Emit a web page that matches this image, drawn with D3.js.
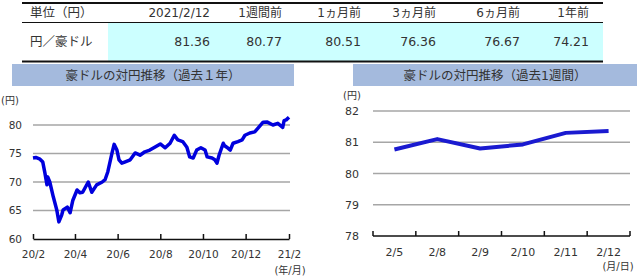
<!DOCTYPE html>
<html>
<head>
<meta charset="utf-8">
<script src="https://cdn.jsdelivr.net/npm/d3@7"></script>
<style>
  body { margin: 0; background: #fff; }
  svg text { font-family: "DejaVu Sans", "Noto Sans CJK JP", sans-serif; fill: #333; }
</style>
</head>
<body>
<div id="chart"></div>
<script>
// table data
var tableHeaders = ['2021/2/12', '1週間前', '1ヵ月前', '3ヵ月前', '6ヵ月前', '1年前'];
var tableValues = ['81.36', '80.77', '80.51', '76.36', '76.67', '74.21'];

// past 1 year
var yearDates = ['2020-02-12', '2020-02-16', '2020-02-22', '2020-02-26', '2020-02-29', '2020-03-03', '2020-03-04',
    '2020-03-07', '2020-03-12', '2020-03-17', '2020-03-20', '2020-03-24', '2020-03-26', '2020-04-01', '2020-04-05',
    '2020-04-09', '2020-04-15', '2020-04-19', '2020-04-23', '2020-05-01', '2020-05-06', '2020-05-13', '2020-05-21',
    '2020-05-25', '2020-05-29', '2020-06-04', '2020-06-07', '2020-06-11', '2020-06-14', '2020-06-18', '2020-06-22',
    '2020-06-30', '2020-07-07', '2020-07-14', '2020-07-21', '2020-07-28', '2020-08-04', '2020-08-12', '2020-08-19',
    '2020-08-26', '2020-09-01', '2020-09-06', '2020-09-13', '2020-09-19', '2020-09-23', '2020-09-28', '2020-10-03',
    '2020-10-09', '2020-10-15', '2020-10-18', '2020-10-25', '2020-10-29', '2020-11-01', '2020-11-04', '2020-11-10',
    '2020-11-12', '2020-11-15', '2020-11-20', '2020-11-24', '2020-12-01', '2020-12-07', '2020-12-11', '2020-12-18',
    '2020-12-25', '2020-12-30', '2021-01-06', '2021-01-12', '2021-01-20', '2021-01-27', '2021-02-03', '2021-02-05',
    '2021-02-08', '2021-02-12'];
var yearValues = [74.21, 74.3, 74.0, 73.5, 71.6, 69.5, 70.9,
    70.0, 67.4, 65.1, 63.0, 64.2, 65.1, 65.6, 64.6,
    66.8, 68.6, 68.1, 68.2, 70.0, 68.2, 69.5, 70.0,
    70.4, 71.8, 75.1, 76.6, 75.6, 73.9, 73.3, 73.5,
    73.9, 75.1, 74.7, 75.3, 75.6, 76.1, 76.67, 76.0,
    76.8, 78.2, 77.4, 77.1, 76.1, 74.4, 74.2, 75.6,
    76.0, 75.6, 74.4, 74.2, 73.9, 73.3, 74.7, 76.8,
    76.36, 76.1, 75.6, 76.8, 77.1, 77.4, 78.2, 78.6,
    78.8, 79.5, 80.5, 80.51, 80.0, 80.3, 79.6, 80.77,
    80.9, 81.36];
var yearTicks = ['2020-02-12', '2020-04-12', '2020-06-12', '2020-08-12', '2020-10-12', '2020-12-12', '2021-02-12'];

// past 1 week
var weekDays = ['2/5', '2/8', '2/9', '2/10', '2/11', '2/12'];
var weekValues = [80.77, 81.1, 80.8, 80.93, 81.3, 81.36];

var parseDate = d3.timeParse('%Y-%m-%d');
var svg = d3.select('#chart').append('svg').attr('width', 640).attr('height', 278);

// ---- table ----
var colRight = [210, 282, 361, 436, 520, 589];
svg.append('rect').attr('x', 108).attr('y', 23).attr('width', 495).attr('height', 38).attr('fill', '#ccffff');
svg.append('line').attr('x1', 22).attr('x2', 603).attr('y1', 3).attr('y2', 3).attr('stroke', '#111').attr('stroke-width', 2);
svg.append('line').attr('x1', 22).attr('x2', 603).attr('y1', 22.5).attr('y2', 22.5).attr('stroke', '#111').attr('stroke-width', 1);
svg.append('line').attr('x1', 22).attr('x2', 603).attr('y1', 61.5).attr('y2', 61.5).attr('stroke', '#111').attr('stroke-width', 2);
svg.append('text').attr('x', 30).attr('y', 17).style('font-size', '12.5px').text('単位（円）');
svg.append('text').attr('x', 30).attr('y', 46).style('font-size', '12.5px').text('円／豪ドル');
svg.selectAll('.th').data(tableHeaders).enter().append('text')
    .attr('x', function (d, i) { return colRight[i]; }).attr('y', 17)
    .attr('text-anchor', 'end').style('font-size', '12px').text(function (d) { return d; });
svg.selectAll('.td').data(tableValues).enter().append('text')
    .attr('x', function (d, i) { return colRight[i]; }).attr('y', 46)
    .attr('text-anchor', 'end').style('font-size', '12.5px').text(function (d) { return d; });

// ---- panel titles ----
function panelTitle(x, w, label) {
    svg.append('rect').attr('x', x).attr('y', 64).attr('width', w).attr('height', 22).attr('fill', '#a4badd');
    svg.append('text').attr('x', x + w / 2).attr('y', 80).attr('text-anchor', 'middle')
        .style('font-size', '12.5px').text(label);
}
panelTitle(12, 282, '豪ドルの対円推移（過去１年）');
panelTitle(353, 284, '豪ドルの対円推移（過去1週間）');

// ---- 1 year chart ----
var x1 = d3.scaleTime().domain([parseDate(yearDates[0]), parseDate(yearDates[yearDates.length - 1])]).range([33, 289]);
var y1 = d3.scaleLinear().domain([60, 80]).range([239, 125]);

var g1 = svg.append('g');
g1.selectAll('.grid').data([65, 70, 75, 80]).enter().append('line')
    .attr('x1', 33).attr('x2', 290)
    .attr('y1', function (d) { return y1(d); }).attr('y2', function (d) { return y1(d); })
    .attr('stroke', '#a6a6a6').attr('stroke-width', 1.5);

var yAxis1 = g1.append('g').attr('transform', 'translate(22,0)')
    .call(d3.axisLeft(y1).tickValues([60, 65, 70, 75, 80]).tickSize(0).tickPadding(0));
yAxis1.select('.domain').remove();
yAxis1.selectAll('text').style('font-size', '10.5px').attr('fill', '#333');
g1.append('text').attr('x', 10).attr('y', 104).attr('text-anchor', 'middle').style('font-size', '10px').text('(円)');

var xAxis1 = g1.append('g').attr('transform', 'translate(0,239)')
    .call(d3.axisBottom(x1).tickValues(yearTicks.map(parseDate)).tickSize(-5).tickPadding(12)
        .tickFormat(d3.timeFormat('%y/%-m')).tickSizeOuter(0));
xAxis1.select('.domain').attr('stroke', '#111').attr('stroke-width', 1.5);
xAxis1.selectAll('line').attr('stroke', '#111').attr('stroke-width', 1.5);
xAxis1.selectAll('text').style('font-size', '10.5px').attr('fill', '#333');
g1.append('text').attr('x', 290).attr('y', 274).attr('text-anchor', 'middle').style('font-size', '10px').text('(年/月)');

var line1 = d3.line()
    .x(function (d, i) { return x1(parseDate(yearDates[i])); })
    .y(function (d) { return y1(d); });
g1.append('path').datum(yearValues).attr('d', line1)
    .attr('fill', 'none').attr('stroke', '#0000dd').attr('stroke-width', 3.5).attr('stroke-linejoin', 'round');

// ---- 1 week chart ----
var x2 = d3.scaleBand().domain(weekDays).range([373, 630]);
var y2 = d3.scaleLinear().domain([78, 82]).range([236, 111]);

var g2 = svg.append('g');
g2.selectAll('.grid').data([79, 80, 81, 82]).enter().append('line')
    .attr('x1', 373).attr('x2', 630)
    .attr('y1', function (d) { return y2(d); }).attr('y2', function (d) { return y2(d); })
    .attr('stroke', '#a6a6a6').attr('stroke-width', 1.5);

var yAxis2 = g2.append('g').attr('transform', 'translate(359,0)')
    .call(d3.axisLeft(y2).tickValues([78, 79, 80, 81, 82]).tickFormat(d3.format('d')).tickSize(0).tickPadding(0));
yAxis2.select('.domain').remove();
yAxis2.selectAll('text').style('font-size', '11px').attr('fill', '#333');
g2.append('text').attr('x', 352).attr('y', 99).attr('text-anchor', 'middle').style('font-size', '10px').text('(円)');

var xAxis2 = g2.append('g').attr('transform', 'translate(0,236)');
xAxis2.append('line').attr('x1', 373).attr('x2', 630).attr('stroke', '#111').attr('stroke-width', 1.5);
xAxis2.selectAll('.tk').data(d3.range(weekDays.length + 1)).enter().append('line')
    .attr('x1', function (d) { return 373 + d * x2.step(); })
    .attr('x2', function (d) { return 373 + d * x2.step(); })
    .attr('y1', 0).attr('y2', -5).attr('stroke', '#111').attr('stroke-width', 1.5);
xAxis2.selectAll('.lb').data(weekDays).enter().append('text')
    .attr('x', function (d) { return x2(d) + x2.bandwidth() / 2; }).attr('y', 20)
    .attr('text-anchor', 'middle').style('font-size', '11px').text(function (d) { return d; });
g2.append('text').attr('x', 618).attr('y', 270).attr('text-anchor', 'middle').style('font-size', '10px').text('(月/日)');

var line2 = d3.line()
    .x(function (d, i) { return x2(weekDays[i]) + x2.bandwidth() / 2; })
    .y(function (d) { return y2(d); });
g2.append('path').datum(weekValues).attr('d', line2)
    .attr('fill', 'none').attr('stroke', '#1a1ad0').attr('stroke-width', 4).attr('stroke-linejoin', 'round');
</script>
</body>
</html>
